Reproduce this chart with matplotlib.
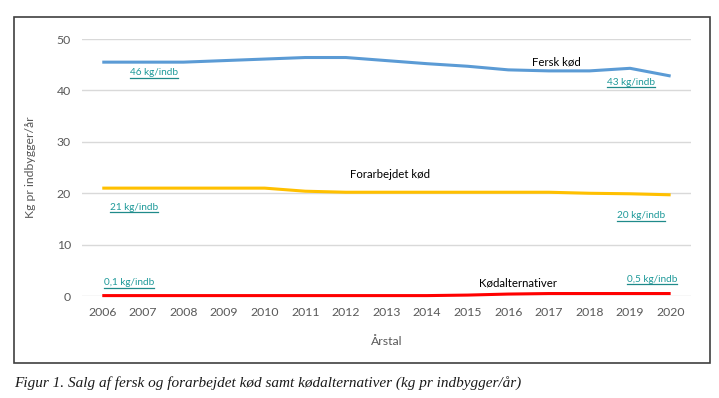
import matplotlib.pyplot as plt
from matplotlib.patches import Rectangle
from matplotlib.lines import Line2D

years = list(range(2006, 2021))
fersk = [45.5, 45.5, 45.5, 45.8, 46.1, 46.4, 46.4, 45.8, 45.2, 44.7, 44.0, 43.8, 43.8, 44.3, 42.8]
forarbejdet = [21.0, 21.0, 21.0, 21.0, 21.0, 20.4, 20.2, 20.2, 20.2, 20.2, 20.2, 20.2, 20.0, 19.9, 19.7]
alternativer = [0.1, 0.1, 0.1, 0.1, 0.1, 0.1, 0.1, 0.1, 0.1, 0.2, 0.4, 0.5, 0.5, 0.5, 0.5]
yticks = [0, 10, 20, 30, 40, 50]

# text labels
series_labels = [("Fersk kød", 2017.18, 45.5), ("Forarbejdet kød", 2013.08, 23.7),
                 ("Kødalternativer", 2016.25, 2.5)]
value_labels = [("46 kg/indb", 2007.28, 43.4), ("21 kg/indb", 2006.79, 17.3),
                ("0,1 kg/indb", 2006.66, 2.7), ("43 kg/indb", 2019.02, 41.6),
                ("20 kg/indb", 2019.27, 15.6), ("0,5 kg/indb", 2019.54, 3.3)]

plt.rcParams['font.family'] = ['Lato', 'DejaVu Sans']
fig = plt.figure(figsize=(7.19, 3.98), dpi=100)
ax = fig.add_axes([0.114, 0.256, 0.847, 0.646])

fig.patches.append(Rectangle((0.0195, 0.088), 0.968, 0.869, transform=fig.transFigure,
                             fill=False, edgecolor="#3f3f3f", linewidth=1.2))

ax.plot(years, fersk, color="#5B9BD5", linewidth=2.2, solid_capstyle="butt", clip_on=False)
ax.plot(years, forarbejdet, color="#FFC000", linewidth=2.2, solid_capstyle="butt", clip_on=False)
ax.plot(years, alternativer, color="#FF0000", linewidth=2.2, solid_capstyle="butt", clip_on=False, zorder=3)

ax.set_xlim(2005.5, 2020.5)
ax.set_ylim(0, 50)
ax.set_yticks(yticks)
ax.set_xticks(years)
ax.grid(axis="y", color="#d9d9d9", linewidth=1)
ax.set_axisbelow(True)
for s in ax.spines.values():
    s.set_visible(False)
ax.tick_params(length=0, labelsize=8.8, labelcolor="#595959", pad=8)
ax.tick_params(axis="y", pad=8)
ax.set_xlabel("Årstal", fontsize=8.8, color="#595959", labelpad=13)
ax.set_ylabel("Kg pr indbygger/år", fontsize=8.8, color="#595959", labelpad=15)

for txt, x, y in series_labels:
    ax.text(x, y, txt, ha="center", va="center", fontsize=8.2, color="black")

fig.canvas.draw()
renderer = fig.canvas.get_renderer()
for txt, x, y in value_labels:
    t = ax.text(x, y, txt, ha="center", va="center", fontsize=7.2, color="#1F9A9A")
    bb = t.get_window_extent(renderer).transformed(fig.transFigure.inverted())
    fig.lines.append(Line2D([bb.x0, bb.x1], [bb.y0 - 0.002, bb.y0 - 0.002],
                            transform=fig.transFigure, color="#1F8A8A", linewidth=0.9))

fig.text(0.02, 0.037, "Figur 1. Salg af fersk og forarbejdet kød samt kødalternativer (kg pr indbygger/år)",
         fontsize=11, fontstyle="italic", family="Liberation Serif", color="#1a1a1a", va="center")

fig.savefig("out.png", dpi=100)
